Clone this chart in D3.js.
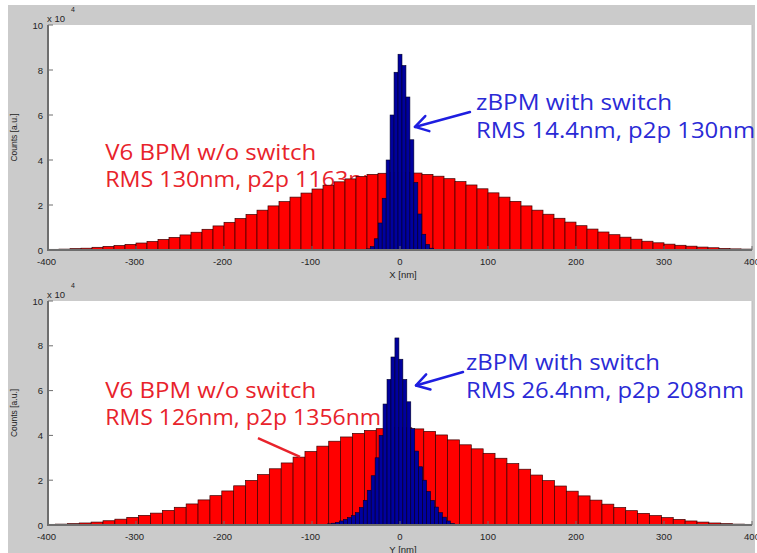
<!DOCTYPE html>
<html><head><meta charset="utf-8">
<script src="https://cdn.jsdelivr.net/npm/d3@7"></script>
<style>body{margin:0;background:#fff}svg{display:block}</style>
</head><body>
<script>
// ---------- data (counts in units of 10^4) ----------
const xTicks = [-400, -300, -200, -100, 0, 100, 200, 300, 400];
const yTicks = [0, 2, 4, 6, 8, 10];
const yTickLabels = ["0", "2", "4", "6", "8", "10"];

// Top panel (X)
const topRedStart = -393.75, topRedWidth = 12.5;
const topRedCounts = [0.03,0.04,0.06,0.08,0.12,0.16,0.20,0.25,0.31,0.38,0.47,0.56,0.67,0.79,0.92,1.07,
  1.23,1.40,1.58,1.77,1.96,2.15,2.35,2.53,2.71,2.88,3.03,3.16,3.27,3.36,3.41,3.45,
  3.44,3.42,3.36,3.28,3.17,3.04,2.89,2.72,2.54,2.35,2.16,1.96,1.77,1.59,1.41,1.24,
  1.08,0.93,0.80,0.68,0.57,0.48,0.39,0.32,0.26,0.21,0.17,0.13,0.10,0.07,0.05,0.04];
const topBlueStart = -36, topBlueWidth = 4.5;
const topBlueCounts = [0.05,0.15,0.5,1.2,2.3,4.0,6.0,7.9,8.7,8.2,6.8,4.9,3.0,1.6,0.7,0.25,0.08];

// Bottom panel (Y)
const botRedStart = -398.25, botRedWidth = 13.5;
const botRedCounts = [0.03,0.04,0.06,0.09,0.13,0.19,0.26,0.34,0.43,0.53,0.65,0.79,0.94,1.12,1.31,
  1.52,1.75,1.99,2.25,2.51,2.77,3.03,3.28,3.52,3.74,3.93,4.09,4.22,4.30,4.35,
  4.34,4.29,4.18,4.02,3.80,3.58,3.40,3.20,2.98,2.74,2.49,2.23,1.98,1.74,1.51,
  1.30,1.11,0.93,0.78,0.64,0.52,0.42,0.33,0.25,0.18,0.13,0.09,0.06,0.04,0.03];
const botBlueStart = -89, botBlueWidth = 4.5;
const botBlueCounts = [0.02,0.03,0.05,0.08,0.12,0.18,0.25,0.33,0.42,0.55,0.78,1.1,1.55,2.2,3.0,4.0,5.4,6.5,7.5,8.35,
  7.4,6.5,5.5,4.3,3.3,2.6,2.0,1.5,1.1,0.8,0.55,0.35,0.18,0.07,0.03];

// annotations (data coords: nm, 10^4 counts)
const panelsCfg = [
  { top: 25, bottom: 250, xTitle: "X [nm]",
    red: { start: topRedStart, w: topRedWidth, counts: topRedCounts },
    blue: { start: topBlueStart, w: topBlueWidth, counts: topBlueCounts },
    redText: [["V6 BPM w/o switch", -335, 4.0, 211], ["RMS 130nm, p2p 1163nm", -335, 2.8, 279]],
    blueText: [["zBPM with switch", 86.4, 6.22, 196], ["RMS 14.4nm, p2p 130nm", 86.4, 5.0, 279]],
    arrow: [[79.5, 6.13], [17, 5.47]],
    pointer: null },
  { top: 301, bottom: 525, xTitle: "Y [nm]",
    red: { start: botRedStart, w: botRedWidth, counts: botRedCounts },
    blue: { start: botBlueStart, w: botBlueWidth, counts: botBlueCounts },
    redText: [["V6 BPM w/o switch", -335, 5.67, 211], ["RMS 126nm, p2p 1356nm", -335, 4.46, 276]],
    blueText: [["zBPM with switch", 75, 6.9, 194], ["RMS 26.4nm, p2p 208nm", 75, 5.67, 278]],
    arrow: [[71.6, 6.83], [18.2, 6.23]],
    pointer: [[-161.4, 3.88], [-113.6, 3.04]] }
];

// ---------- drawing ----------
const W = 757, H = 553;
const svg = d3.select("body").append("svg").attr("width", W).attr("height", H);
svg.append("rect").attr("width", W).attr("height", H).attr("fill", "#ffffff");
svg.append("rect").attr("x", 8).attr("y", 5).attr("width", 747).attr("height", 548).attr("fill", "#cbcbcb");

const x = d3.scaleLinear().domain([-400, 400]).range([48, 752]);
const annFont = "'Open Sans', 'Noto Sans', sans-serif";
const axFont = "'Liberation Sans', Arial, sans-serif";
const txtCol = "#242424";

panelsCfg.forEach((p, pi) => {
  const y = d3.scaleLinear().domain([0, 10]).range([p.bottom, p.top]);
  const g = svg.append("g");
  const clipId = "clip" + pi;
  svg.append("clipPath").attr("id", clipId).append("rect")
    .attr("x", x(-400)).attr("y", p.top).attr("width", x(400) - x(-400)).attr("height", p.bottom - p.top);

  g.append("rect").attr("x", x(-400)).attr("y", p.top)
    .attr("width", x(400) - x(-400)).attr("height", p.bottom - p.top).attr("fill", "#ffffff");
  g.append("line").attr("x1", x(400)).attr("x2", x(400)).attr("y1", p.top).attr("y2", p.bottom)
    .attr("stroke", "#bdbdbd").attr("stroke-width", 1);

  // red annotation (behind bars)
  p.redText.forEach(([t, dx, dy, len]) => {
    g.append("text").attr("x", x(dx)).attr("y", y(dy)).text(t)
      .attr("font-family", annFont).attr("font-size", 21).attr("fill", "#e8232b")
      .attr("textLength", len).attr("lengthAdjust", "spacingAndGlyphs");
  });

  const bars = g.append("g").attr("clip-path", `url(#${clipId})`);
  bars.selectAll("rect.red").data(p.red.counts).join("rect").attr("class", "red")
    .attr("x", (d, i) => x(p.red.start + i * p.red.w - p.red.w / 2))
    .attr("width", x(p.red.w) - x(0))
    .attr("y", d => y(d)).attr("height", d => y(0) - y(d))
    .attr("fill", "#ff0000").attr("stroke", "#3a0000").attr("stroke-width", 0.7);
  bars.selectAll("rect.blue").data(p.blue.counts).join("rect").attr("class", "blue")
    .attr("x", (d, i) => x(p.blue.start + i * p.blue.w - p.blue.w / 2))
    .attr("width", x(p.blue.w) - x(0))
    .attr("y", d => y(d)).attr("height", d => y(0) - y(d))
    .attr("fill", "#00009e").attr("stroke", "#000028").attr("stroke-width", 0.6);

  // axes
  const axCol = "#6e6e6e";
  g.append("line").attr("x1", x(-400)).attr("x2", x(-400)).attr("y1", p.top).attr("y2", p.bottom)
    .attr("stroke", axCol).attr("stroke-width", 2);
  g.append("line").attr("x1", x(-400) - 1).attr("x2", x(400)).attr("y1", p.bottom).attr("y2", p.bottom)
    .attr("stroke", axCol).attr("stroke-width", 2);
  yTicks.forEach((v, i) => {
    g.append("line").attr("x1", x(-400)).attr("x2", x(-400) + 5).attr("y1", y(v)).attr("y2", y(v))
      .attr("stroke", axCol).attr("stroke-width", 1);
    g.append("text").attr("x", x(-400) - 5).attr("y", y(v) + 3.5).attr("text-anchor", "end")
      .attr("font-family", axFont).attr("font-size", 9.5).attr("fill", txtCol).text(yTickLabels[i]);
  });
  xTicks.forEach(v => {
    g.append("line").attr("x1", x(v)).attr("x2", x(v)).attr("y1", p.bottom).attr("y2", p.bottom - 4)
      .attr("stroke", axCol).attr("stroke-width", 1);
    g.append("text").attr("x", x(v) - (v < 0 ? 1.5 : 0)).attr("y", p.bottom + 15).attr("text-anchor", "middle")
      .attr("font-family", axFont).attr("font-size", 9.5).attr("fill", txtCol).text(v);
  });
  g.append("text").attr("x", 403).attr("y", p.bottom + 27.5).attr("text-anchor", "middle")
    .attr("font-family", axFont).attr("font-size", 9.5).attr("fill", txtCol).text(p.xTitle);
  g.append("text").attr("transform", `translate(17,${(p.top + p.bottom) / 2}) rotate(-90)`)
    .attr("text-anchor", "middle").attr("font-family", axFont).attr("font-size", 8.5)
    .attr("fill", txtCol).text("Counts [a.u.]");
  g.append("text").attr("x", 47).attr("y", p.top - 3).attr("font-family", axFont).attr("font-size", 9.5)
    .attr("fill", txtCol).text("x 10");
  g.append("text").attr("x", 71).attr("y", p.top - 13).attr("font-family", axFont).attr("font-size", 7)
    .attr("fill", txtCol).text("4");

  // blue annotation
  p.blueText.forEach(([t, dx, dy, len]) => {
    g.append("text").attr("x", x(dx)).attr("y", y(dy)).text(t)
      .attr("font-family", annFont).attr("font-size", 21).attr("fill", "#2a2ad6")
      .attr("textLength", len).attr("lengthAdjust", "spacingAndGlyphs");
  });
  // arrow
  const [a0, a1] = p.arrow;
  const sx = x(a0[0]), sy = y(a0[1]), tx = x(a1[0]), ty = y(a1[1]);
  const ang = Math.atan2(sy - ty, sx - tx);
  const hl = 15, ha = 0.55;
  const ac = "#1e1ee0";
  g.append("line").attr("x1", sx).attr("y1", sy).attr("x2", tx).attr("y2", ty)
    .attr("stroke", ac).attr("stroke-width", 2.5).attr("stroke-linecap", "round");
  g.append("path")
    .attr("d", `M${tx + hl * Math.cos(ang - ha)},${ty + hl * Math.sin(ang - ha)}L${tx},${ty}L${tx + hl * Math.cos(ang + ha)},${ty + hl * Math.sin(ang + ha)}`)
    .attr("fill", "none").attr("stroke", ac).attr("stroke-width", 2.5)
    .attr("stroke-linecap", "round").attr("stroke-linejoin", "round");
  if (p.pointer) {
    g.append("line").attr("x1", x(p.pointer[0][0])).attr("y1", y(p.pointer[0][1]))
      .attr("x2", x(p.pointer[1][0])).attr("y2", y(p.pointer[1][1]))
      .attr("stroke", "#e8232b").attr("stroke-width", 2.5);
  }
});
</script>
</body></html>
